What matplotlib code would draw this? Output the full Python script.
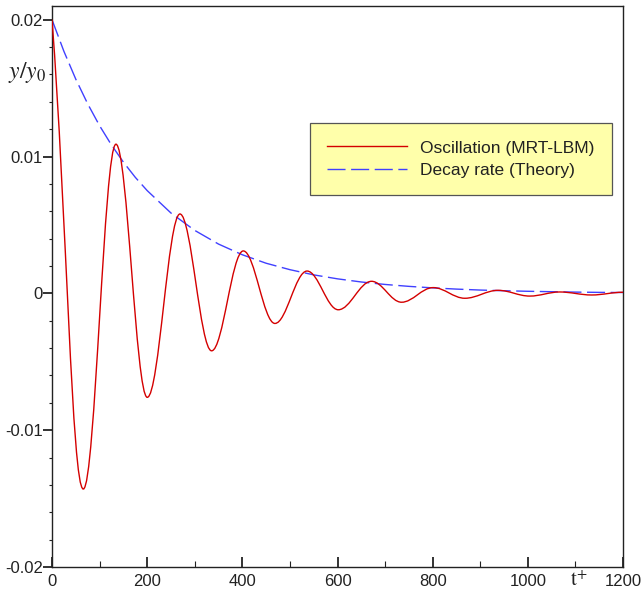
import numpy as np
import matplotlib
matplotlib.use('Agg')
import matplotlib.pyplot as plt
import matplotlib.patches as patches
from matplotlib.path import Path
from matplotlib.lines import Line2D

plt.rcParams['font.family'] = ['Liberation Sans', 'DejaVu Sans']
plt.rcParams['mathtext.fontset'] = 'stix'

# extrema of the oscillation, first point is the start value
ext_t = [0, 65.8, 134.4, 200.2, 268.9, 335.4, 402, 468.5, 536, 601.6,
         671.6, 734.6, 801, 867.6, 937.6, 1004, 1067, 1134, 1200]
ext_y = [0.0200, -0.0143, 0.0109, -0.0076, 0.0058, -0.0042, 0.0031, -0.0022,
         0.00163, -0.0012, 0.00088, -0.00065, 0.00042, -0.00036, 0.00022,
         -0.0002, 0.0001, -0.00012, 0.00008]
start_slope = -0.00045  # initial slope of the red curve at t = 0

# theoretical decay envelope
env_t = [0, 25, 50, 75, 100, 125, 150, 175, 200, 250, 300, 350, 400, 450, 500,
         550, 600, 650, 700, 750, 800, 850, 900, 950, 1000, 1050, 1100, 1150, 1200]
env_y = [0.0200, 0.01769, 0.01565, 0.01385, 0.01225, 0.01084, 0.00959, 0.00848,
         0.00751, 0.00587, 0.00460, 0.00360, 0.00282, 0.00220, 0.00173, 0.00135,
         0.00106, 0.00083, 0.00065, 0.00051, 0.00040, 0.00031, 0.00024, 0.00019,
         0.00015, 0.00012, 0.00009, 0.00007, 0.00006]

xticks = [0, 200, 400, 600, 800, 1000, 1200]
yticks = [-0.02, -0.01, 0, 0.01, 0.02]
ytick_labels = ['-0.02', '-0.01', '0', '0.01', '0.02']

red = '#d40000'
blue = '#4040ff'

fig = plt.figure(figsize=(6.43, 5.95), dpi=100)
ax = fig.add_axes([52 / 643, 28 / 595, 571 / 643, 561 / 595])

# red curve: half-wave bezier segments between the extrema
verts = [(ext_t[0], ext_y[0])]
codes = [Path.MOVETO]
for i in range(1, len(ext_t)):
    t0, y0 = ext_t[i - 1], ext_y[i - 1]
    t1, y1 = ext_t[i], ext_y[i]
    d = t1 - t0
    if i == 1:
        c1 = (t0 + 30, y0 + start_slope * 30)
    else:
        c1 = (t0 + 0.363 * d, y0)
    c2 = (t1 - 0.363 * d, y1)
    verts += [c1, c2, (t1, y1)]
    codes += [Path.CURVE4] * 3
ax.add_patch(patches.PathPatch(Path(verts, codes), fill=False,
                               edgecolor=red, lw=1.0, zorder=3))

ax.plot(env_t, env_y, color=blue, lw=1.0, dashes=(13, 4), zorder=2)

ax.set_xlim(0, 1200)
ax.set_ylim(-0.02, 0.0210)

ax.set_xticks(xticks)
ax.set_xticks(np.arange(100, 1200, 200), minor=True)
ax.set_yticks(yticks)
ax.set_yticklabels(ytick_labels)
ax.set_yticks([v for v in np.arange(-0.02, 0.0201, 0.002)
               if min(abs(v - m) for m in yticks) > 1e-6], minor=True)

ax.tick_params(axis='x', which='major', direction='in', length=7.5, width=1.3,
               labelsize=12, pad=5, colors='#222')
ax.tick_params(axis='x', which='minor', direction='in', length=4.5, width=0.8,
               colors='#222')
ax.tick_params(axis='y', which='major', direction='out', length=6.5, width=1.3,
               labelsize=12, pad=0, colors='#222')
ax.tick_params(axis='y', which='minor', direction='out', length=2.5, width=0.8,
               colors='#222')
for s in ax.spines.values():
    s.set_linewidth(1.0)
    s.set_color('#222')

ax.text(-0.044, 0.882, r'$y/y_{0}$', transform=ax.transAxes, fontsize=17,
        ha='center', va='center', color='#222')
ax.text(0.922, -0.006, r'$\mathrm{t}^{+}$', transform=ax.transAxes, fontsize=15,
        ha='center', va='top', color='#222')

handles = [Line2D([], [], color=red, lw=1.0),
           Line2D([], [], color=blue, lw=1.0, dashes=(13, 4))]
leg = ax.legend(handles, ['Oscillation (MRT-LBM)', 'Decay rate (Theory)'],
                loc='upper left', bbox_to_anchor=((310 - 52) / 571, (567 - 123) / 561),
                borderaxespad=0, fontsize=12.5, handlelength=4.6, handletextpad=0.75,
                borderpad=1.0, labelspacing=0.4, fancybox=False, framealpha=1,
                facecolor='#ffffaa', edgecolor='#555555')
leg.get_frame().set_linewidth(0.9)
for t in leg.get_texts():
    t.set_color('#222')

fig.savefig('out.png', dpi=100)
